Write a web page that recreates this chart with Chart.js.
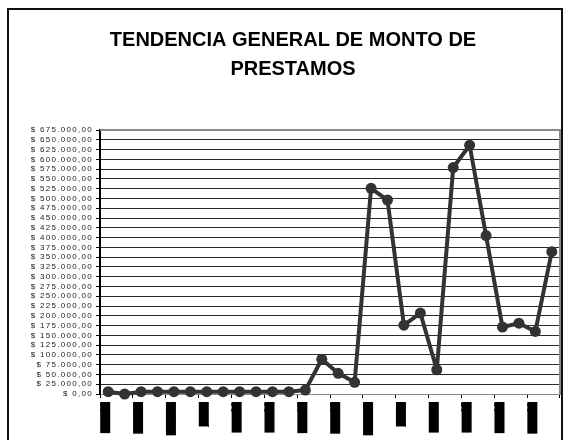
<!DOCTYPE html>
<html lang="es">
<head>
<meta charset="utf-8">
<title>Tendencia general de monto de préstamos</title>
<script src="https://cdn.jsdelivr.net/npm/chart.js@4.4.1/dist/chart.umd.min.js"></script>
<style>
  html, body { margin: 0; padding: 0; background: #fff; }
  #wrap { position: relative; width: 571px; height: 440px; overflow: hidden; }
  #chart { display: block; }
  /* marco exterior del grafico (sin borde inferior, queda fuera de la imagen) */
  #frame {
    position: absolute; left: 7px; top: 8px; width: 556px; height: 440px;
    border: 2px solid #111; border-bottom: none; box-sizing: border-box;
    pointer-events: none;
  }
</style>
</head>
<body>
<div id="wrap">
  <canvas id="chart" width="571" height="440"></canvas>
  <div id="frame"></div>
</div>
<script>
// ==========================================
// --- Datos ---
// ==========================================
const titleLines = ['TENDENCIA GENERAL DE MONTO DE', 'PRESTAMOS'];

// meses (mmm-aa), una etiqueta visible cada dos meses
const months = [
    'ene-06', 'feb-06', 'mar-06', 'abr-06', 'may-06', 'jun-06',
    'jul-06', 'ago-06', 'sep-06', 'oct-06', 'nov-06', 'dic-06',
    'ene-07', 'feb-07', 'mar-07', 'abr-07', 'may-07', 'jun-07',
    'jul-07', 'ago-07', 'sep-07', 'oct-07', 'nov-07', 'dic-07',
    'ene-08', 'feb-08', 'mar-08', 'abr-08'
];

// monto de prestamos por mes
const montos = [
    6000, 0, 6000, 6000, 6000, 6000,
    6000, 6000, 6000, 6000, 6000, 6000,
    10000, 89000, 53000, 30000, 526000, 496000,
    176000, 207000, 62000, 579000, 636000, 405000,
    171000, 181000, 160000, 364000
];

const yMax = 675000;
const yStep = 25000;

// ==========================================
// --- Utilidades ---
// ==========================================
const fontFamily = '"Liberation Sans", Arial, sans-serif';

// 675000 -> "$ 675.000,00"
function formatPeso(value) {
    const entero = Math.round(value).toString().replace(/\B(?=(\d{3})+(?!\d))/g, '.');
    return '$ ' + entero + ',00';
}

const hidden = 'rgba(0,0,0,0)';

// borde gris del area de trazado + espaciado de letras para el eje Y
const plotFrame = {
    id: 'plotFrame',
    beforeDraw(chart) {
        chart.ctx.letterSpacing = '0px';
    },
    beforeDatasetsDraw(chart) {
        const { ctx, chartArea: a } = chart;
        ctx.save();
        ctx.strokeStyle = '#8a8a8a';
        ctx.lineWidth = 2;
        ctx.beginPath();
        ctx.moveTo(a.left, a.top);
        ctx.lineTo(a.right, a.top);
        ctx.lineTo(a.right, a.bottom);
        ctx.stroke();
        ctx.restore();
    },
    afterDatasetsDraw(chart) {
        // las etiquetas del eje Y (z: 1) se dibujan despues de los datos
        chart.ctx.letterSpacing = '1.3px';
    }
};

// ==========================================
// --- Grafico ---
// ==========================================
const ctx = document.getElementById('chart').getContext('2d');

new Chart(ctx, {
    type: 'line',
    data: {
        labels: months,
        datasets: [{
            label: 'Monto',
            data: montos,
            borderColor: '#333',
            borderWidth: 4,
            borderJoinStyle: 'round',
            borderCapStyle: 'round',
            pointRadius: 5.5,
            pointBackgroundColor: '#333',
            pointBorderColor: '#333',
            pointBorderWidth: 0,
            tension: 0,
            clip: false
        }]
    },
    options: {
        responsive: false,
        animation: false,
        layout: { padding: { left: 26, right: 11, top: 10, bottom: 0 } },
        plugins: {
            legend: { display: false },
            tooltip: { enabled: false },
            title: {
                display: true,
                text: titleLines,
                color: '#000',
                font: { family: fontFamily, size: 20, weight: 'bold', lineHeight: 1.45 },
                padding: { top: 15.5, bottom: 46.5 }
            }
        },
        scales: {
            x: {
                type: 'category',
                offset: true,
                grid: {
                    offset: true,
                    drawOnChartArea: false,
                    tickLength: 4,
                    tickColor: c => (c.index === undefined || c.index % 2 === 0) ? '#000' : hidden
                },
                border: { color: '#8a8a8a', width: 1 },
                ticks: {
                    autoSkip: false,
                    minRotation: 90,
                    maxRotation: 90,
                    padding: 4,
                    labelOffset: -8,
                    color: '#000',
                    font: { family: fontFamily, size: 10, lineHeight: 1 },
                    showLabelBackdrop: true,
                    backdropPadding: 0,
                    backdropColor: c => c.index % 2 === 0 ? '#000' : hidden,
                    callback: (value, i) => i % 2 === 0 ? months[i] : ''
                },
                afterFit: scale => { scale.height = 46; }
            },
            y: {
                min: 0,
                max: yMax,
                grid: { color: '#2a2a2a', lineWidth: 1, tickLength: 4, tickColor: '#000' },
                border: { color: '#000', width: 2 },
                ticks: {
                    stepSize: yStep,
                    autoSkip: false,
                    padding: 3,
                    z: 1,
                    color: '#222',
                    font: { family: fontFamily, size: 8 },
                    callback: v => formatPeso(v)
                },
                afterFit: scale => { scale.width = 74; }
            }
        }
    },
    plugins: [plotFrame]
});
</script>
</body>
</html>
